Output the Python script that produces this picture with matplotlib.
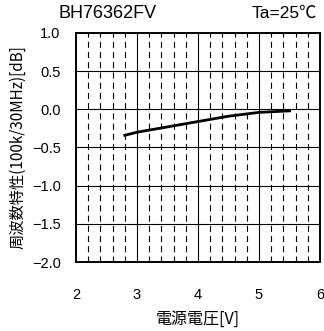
import numpy as np
import matplotlib
matplotlib.use('Agg')
import matplotlib.pyplot as plt

plt.rcParams['font.family'] = ['Liberation Sans', 'Noto Sans CJK JP', 'DejaVu Sans']
plt.rcParams['axes.unicode_minus'] = True

# supply voltage [V] vs frequency characteristic (100k/30MHz) [dB]
voltage = [2.8, 3.0, 3.5, 4.0, 4.5, 5.0, 5.5]
response = [-0.34, -0.30, -0.23, -0.16, -0.09, -0.04, -0.02]

x_ticks = [2, 3, 4, 5, 6]
y_ticks = [1.0, 0.5, 0.0, -0.5, -1.0, -1.5, -2.0]
minor_x = [2.2, 2.4, 2.6, 2.8, 3.2, 3.4, 3.6, 3.8,
           4.2, 4.4, 4.6, 4.8, 5.2, 5.4, 5.6, 5.8]

fig = plt.figure(figsize=(3.24, 3.31), dpi=100)
ax = fig.add_axes([76 / 324, 1 - 262 / 331, 244 / 324, 229 / 331])

for xv in minor_x:
    ax.axvline(xv, color='black', lw=0.8, dashes=(5.4, 3.8), zorder=1)
for xv in x_ticks[1:-1]:
    ax.axvline(xv, color='black', lw=0.8, zorder=1)
for yv in y_ticks[1:-1]:
    ax.axhline(yv, color='black', lw=0.8, zorder=1)

ax.plot(voltage, response, color='black', lw=2.0, zorder=3)

ax.set_xlim(2, 6)
ax.set_ylim(-2.0, 1.0)
ax.set_xticks(x_ticks)
ax.set_yticks(y_ticks)
ax.set_xticklabels([str(v) for v in x_ticks])
ax.set_yticklabels([('%.1f' % v).replace('-', '\u2212') for v in y_ticks])
ax.tick_params(axis='both', length=0, labelsize=10.5)
ax.tick_params(axis='x', pad=19)
ax.tick_params(axis='y', pad=11)
for s in ax.spines.values():
    s.set_linewidth(1.4)

ax.set_xlabel('電源電圧[V]', fontsize=11.5, labelpad=6,
              family=['Noto Sans CJK JP', 'DejaVu Sans'])
ax.set_ylabel('周波数特性(100k/30MHz)[dB]', fontsize=11, labelpad=4,
              family=['Noto Sans CJK JP', 'DejaVu Sans'])

fig.text(108 / 324, 1 - 13 / 331, 'BH76362FV', fontsize=13,
         ha='center', va='center')
fig.text(317 / 324, 1 - 13 / 331, 'Ta=25℃', fontsize=12.5, ha='right', va='center',
         family=['Liberation Sans', 'Noto Sans CJK JP'])

fig.savefig('out.png', dpi=100)
